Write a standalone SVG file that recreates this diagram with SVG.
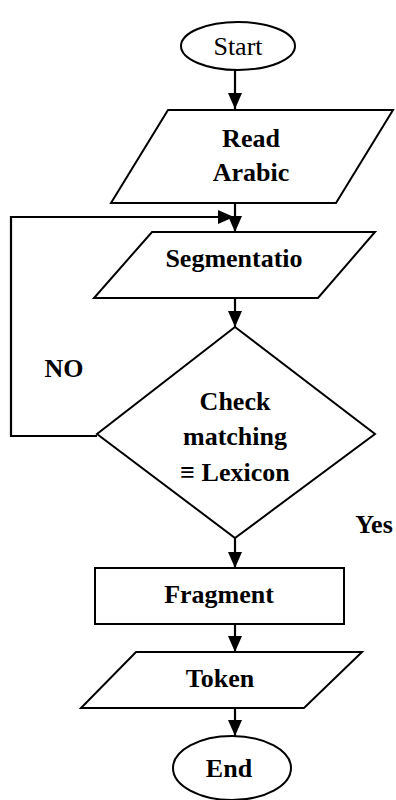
<svg xmlns="http://www.w3.org/2000/svg" width="396" height="800" viewBox="0 0 396 800">
<defs>
<marker id="arr" viewBox="0 0 16 14" refX="16" refY="7" markerWidth="16" markerHeight="14" markerUnits="userSpaceOnUse" orient="auto">
<path d="M0,0 L16,7 L0,14 Z" fill="#000"/>
</marker>
</defs>
<style>
.s{fill:#fff;stroke:#000;stroke-width:2}
.c{fill:none;stroke:#000;stroke-width:2.2}
.t{font-family:"Liberation Serif","Times New Roman",serif;font-size:26px;font-weight:bold;text-anchor:middle;fill:#000}
.n{font-weight:normal}
</style>
<rect width="396" height="800" fill="#fff"/>
<g id="connectors">
<path class="c" d="M235,70 L235,109" marker-end="url(#arr)"/>
<path class="c" d="M235,203 L235,232" marker-end="url(#arr)"/>
<path class="c" d="M97,436 L11,436 L11,217 L234,217" marker-end="url(#arr)"/>
<path class="c" d="M235,298 L235,327" marker-end="url(#arr)"/>
<path class="c" d="M235,538 L235,568" marker-end="url(#arr)"/>
<path class="c" d="M235,624 L235,652" marker-end="url(#arr)"/>
<path class="c" d="M235,708 L235,736" marker-end="url(#arr)"/>
</g>
<g id="start">
<ellipse class="s" cx="238" cy="46" rx="57" ry="24"/>
<text class="t n" x="238" y="55">Start</text>
</g>
<g id="read">
<polygon class="s" points="168,110 393,110 336,203 111,203"/>
<text class="t" x="251" y="147">Read</text>
<text class="t" x="251" y="181">Arabic</text>
</g>
<g id="segmentation">
<polygon class="s" points="152,232 375,232 318,298 94,298"/>
<text class="t" x="234" y="267">Segmentatio</text>
</g>
<g id="check">
<polygon class="s" points="235,327 375,434 235,538 97,434"/>
<text class="t" x="235" y="410">Check</text>
<text class="t" x="235" y="445">matching</text>
<text class="t" x="235" y="481">≡ Lexicon</text>
</g>
<g id="labels">
<text class="t" x="64" y="377">NO</text>
<text class="t" x="374" y="533">Yes</text>
</g>
<g id="fragment">
<rect class="s" x="95" y="568" width="249" height="56"/>
<text class="t" x="219" y="603">Fragment</text>
</g>
<g id="token">
<polygon class="s" points="136,652 362,652 304,708 81,708"/>
<text class="t" x="220" y="687">Token</text>
</g>
<g id="end">
<ellipse class="s" cx="232" cy="768" rx="59" ry="32"/>
<text class="t" x="229" y="777">End</text>
</g>
</svg>
